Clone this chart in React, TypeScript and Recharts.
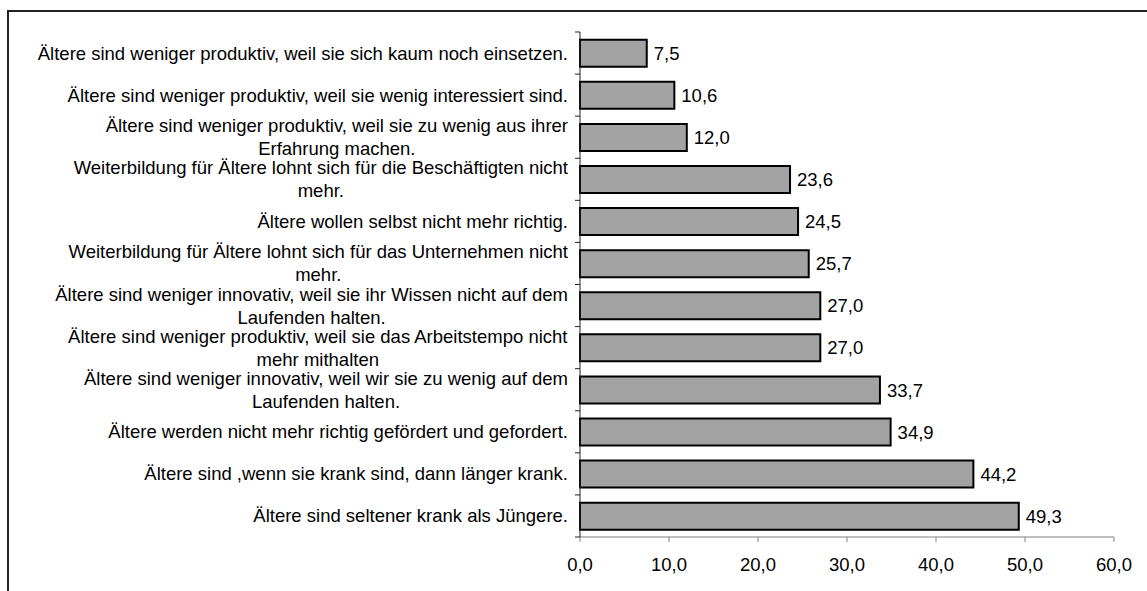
import { Bar, BarChart, LabelList, XAxis, YAxis } from "recharts"

const categories = [
  "Ältere sind weniger produktiv, weil sie sich kaum noch einsetzen.",
  "Ältere sind weniger produktiv, weil sie wenig interessiert sind.",
  "Ältere sind weniger produktiv, weil sie zu wenig aus ihrer\nErfahrung machen.",
  "Weiterbildung für Ältere lohnt sich für die Beschäftigten nicht\nmehr.",
  "Ältere wollen selbst nicht mehr richtig.",
  "Weiterbildung für Ältere lohnt sich für das Unternehmen nicht\nmehr.",
  "Ältere sind weniger innovativ, weil sie ihr Wissen nicht auf dem\nLaufenden halten.",
  "Ältere sind weniger produktiv, weil sie das Arbeitstempo nicht\nmehr mithalten",
  "Ältere sind weniger innovativ, weil wir sie zu wenig auf dem\nLaufenden halten.",
  "Ältere werden nicht mehr richtig gefördert und gefordert.",
  "Ältere sind ,wenn sie krank sind, dann länger krank.",
  "Ältere sind seltener krank als Jüngere.",
]

const values = [7.5, 10.6, 12.0, 23.6, 24.5, 25.7, 27.0, 27.0, 33.7, 34.9, 44.2, 49.3]

const xTicks = [0, 10, 20, 30, 40, 50, 60]

const data = categories.map((name, i) => ({ name, value: values[i] }))

const FONT = "'Liberation Sans', Arial, sans-serif"
const FONT_SIZE = 18.5
const LINE_H = 23

const fmt = (v: any) => Number(v).toFixed(1).replace(".", ",")

let ctx: CanvasRenderingContext2D | null = null
const measure = (s: string) => {
  if (!ctx) {
    ctx = document.createElement("canvas").getContext("2d")
    if (ctx) ctx.font = `${FONT_SIZE}px 'Liberation Sans'`
  }
  return ctx ? ctx.measureText(s).width : s.length * 9
}

// Excel-style labels: lines centred on each other, block right-aligned to the axis
const CategoryTick = ({ x, y, payload, index }: any) => {
  const lines: string[] = String(payload.value).split("\n")
  const maxW = Math.max(...lines.map(measure))
  const cx = x - 2 - maxW / 2
  const axisX = x + 10
  const half = payload.offset || 21.1
  const startY = y - ((lines.length - 1) * LINE_H) / 2

  return (
    <g>
      <line x1={axisX - 5} x2={axisX} y1={y - half} y2={y - half} stroke="#222" />
      {index === categories.length - 1 && (
        <line x1={axisX - 5} x2={axisX} y1={y + half} y2={y + half} stroke="#222" />
      )}
      <text textAnchor="middle" fontFamily={FONT} fontSize={FONT_SIZE} fill="#000">
        {lines.map((l, i) => (
          <tspan key={i} x={cx} y={startY + i * LINE_H} dy="0.35em">
            {l}
          </tspan>
        ))}
      </text>
    </g>
  )
}

export default function App() {
  return (
    <div
      style={{
        position: "fixed",
        left: 0,
        top: 0,
        width: 1147,
        height: 591,
        overflow: "hidden",
        background: "#fff",
      }}
    >
      <div
        style={{
          position: "absolute",
          left: 7,
          top: 10,
          width: 1300,
          height: 800,
          border: "2px solid #222",
        }}
      />
      <div style={{ position: "absolute", left: 0, top: 0 }}>
        <BarChart
          width={1147}
          height={591}
          data={data}
          layout="vertical"
          margin={{ top: 32, right: 33, bottom: 0, left: 0 }}
          barCategoryGap="18.5%"
        >
          <XAxis
            type="number"
            domain={[0, 60]}
            ticks={xTicks}
            tickFormatter={fmt}
            height={54}
            stroke="#808080"
            tickSize={5}
            tickMargin={16}
            tick={{ fill: "#000", fontSize: FONT_SIZE, fontFamily: FONT }}
            interval={0}
          />
          <YAxis
            type="category"
            dataKey="name"
            width={580}
            stroke="#222"
            tickLine={false}
            tickSize={5}
            tickMargin={5}
            interval={0}
            tick={<CategoryTick />}
          />
          <Bar
            dataKey="value"
            fill="#a3a3a3"
            stroke="#000"
            strokeWidth={2}
            isAnimationActive={false}
          >
            <LabelList
              dataKey="value"
              position="right"
              offset={7}
              formatter={fmt}
              fill="#000"
              fontSize={FONT_SIZE}
              fontFamily={FONT}
            />
          </Bar>
        </BarChart>
      </div>
    </div>
  )
}
